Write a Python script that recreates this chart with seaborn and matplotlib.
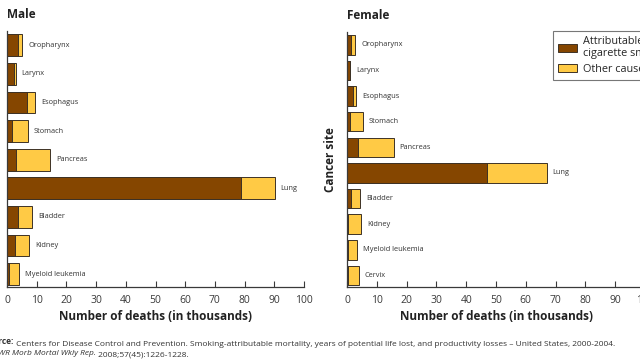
import matplotlib
matplotlib.use("Agg")
import matplotlib.pyplot as plt
import matplotlib.patches as mpatches
import pandas as pd
import seaborn as sns

# ---- data (thousands of deaths) ----
male_sites = ["Oropharynx", "Larynx", "Esophagus", "Stomach", "Pancreas",
              "Lung", "Bladder", "Kidney", "Myeloid leukemia"]
male_smoking = [3.7, 2.5, 6.8, 1.8, 3.1, 78.8, 3.8, 2.8, 0.8]
male_total = [5.1, 2.9, 9.5, 7.1, 14.6, 90.1, 8.5, 7.4, 3.9]

female_sites = ["Oropharynx", "Larynx", "Esophagus", "Stomach", "Pancreas",
                "Lung", "Bladder", "Kidney", "Myeloid leukemia", "Cervix"]
female_smoking = [1.3, 1.0, 1.9, 0.9, 3.8, 47.0, 1.3, 0.4, 0.4, 0.4]
female_total = [2.7, 1.1, 3.0, 5.3, 15.7, 67.0, 4.3, 4.7, 3.3, 4.0]

x_ticks = list(range(0, 101, 10))

BROWN = "#854600"
YELLOW = "#FFCA45"
EDGE = "#3d3226"
GRAY = "#3a3a3a"

sns.set_style("white")
plt.rcParams["font.family"] = ["Open Sans", "DejaVu Sans"]

fig = plt.figure(figsize=(6.4, 3.6), dpi=100)
ax_m = fig.add_axes([7 / 640, 73 / 360, 297 / 640, 256 / 360])
ax_f = fig.add_axes([347 / 640, 73 / 360, 298 / 640, 255 / 360])


def draw_panel(ax, sites, smoking, total, title):
    df = pd.DataFrame({"site": sites, "smoking": smoking, "total": total})
    sns.barplot(data=df, y="site", x="total", color=YELLOW, orient="h",
                width=0.76, edgecolor=EDGE, linewidth=0.7, saturation=1, ax=ax)
    sns.barplot(data=df, y="site", x="smoking", color=BROWN, orient="h",
                width=0.76, edgecolor=EDGE, linewidth=0.7, saturation=1, ax=ax)
    for i, (name, tot) in enumerate(zip(sites, total)):
        ax.text(tot + 2.0, i, name, va="center", ha="left", fontsize=5.3,
                color="#333333")
    n = len(sites)
    ax.set_ylim(n - 0.55, -0.5)
    ax.set_xlim(0, 100)
    ax.set_xticks(x_ticks)
    ax.set_yticks([])
    ax.set_ylabel("")
    ax.set_xlabel("Number of deaths (in thousands)", fontsize=8.5,
                  fontweight="bold", color="#222222", labelpad=3)
    ax.tick_params(axis="x", direction="in", length=4, width=0.8,
                   colors=GRAY, labelsize=7.5, pad=6, bottom=True)
    for s in ["top", "right"]:
        ax.spines[s].set_visible(False)
    for s in ["left", "bottom"]:
        ax.spines[s].set_color(GRAY)
        ax.spines[s].set_linewidth(0.9)
    ax.set_title(title, loc="left", x=0.0, fontsize=8.5, fontweight="bold",
                 color="#222222", pad=9)


draw_panel(ax_m, male_sites, male_smoking, male_total, "Male")
draw_panel(ax_f, female_sites, female_smoking, female_total, "Female")
ax_f.set_ylabel("Cancer site", fontsize=8.5, fontweight="bold",
                color="#222222", labelpad=7)

handles = [mpatches.Patch(facecolor=BROWN, edgecolor=EDGE, linewidth=0.7,
                          label="Attributable to\ncigarette smoking"),
           mpatches.Patch(facecolor=YELLOW, edgecolor=EDGE, linewidth=0.7,
                          label="Other causes")]
leg = fig.legend(handles=handles, loc="upper left",
                 bbox_to_anchor=(553 / 640, 1 - 31 / 360), borderaxespad=0,
                 fontsize=7.8, frameon=True, fancybox=False,
                 edgecolor="#555555", handlelength=1.75, handleheight=0.75,
                 handletextpad=0.55, labelspacing=0.4, borderpad=0.45)
leg.get_frame().set_linewidth(0.8)

# source note (partly cut off at the left edge, as in the original)
t1 = fig.text(-16 / 640, 1 - 344 / 360, "Source:", fontsize=6.05,
              fontweight="bold", color="#333333")
ax_m.annotate(" Centers for Disease Control and Prevention. Smoking-attributable "
              "mortality, years of potential life lost, and productivity losses "
              "\u2013 United States, 2000-2004.",
              xy=(1, 0), xycoords=t1, fontsize=6.05, color="#333333",
              annotation_clip=False)
t2 = fig.text(-16 / 640, 1 - 355 / 360, "MMWR Morb Mortal Wkly Rep.",
              fontsize=6.05, fontstyle="italic", color="#333333")
ax_m.annotate(" 2008;57(45):1226-1228.", xy=(1, 0), xycoords=t2,
              fontsize=6.05, color="#333333", annotation_clip=False)

fig.savefig("out.png", dpi=100)
